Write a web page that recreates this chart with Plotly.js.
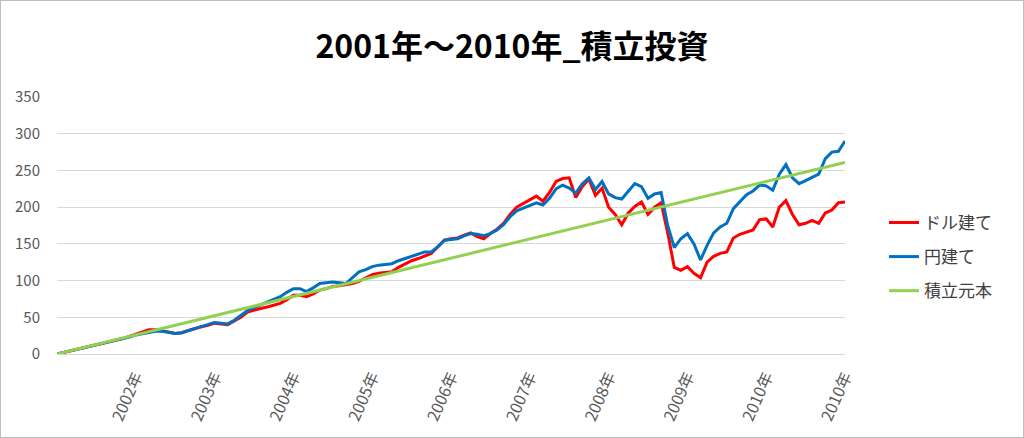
<!DOCTYPE html>
<html>
<head>
<meta charset="utf-8">
<script src="https://cdn.plot.ly/plotly-3.0.1.min.js"></script>
<style>
  html, body { margin: 0; padding: 0; background: #ffffff; }
  #chart { width: 1022px; height: 436px; border: 1px solid #bfbfbf; }
</style>
</head>
<body>
<div id="chart"></div>
<script>
// Month index from January 2001 (0) to December 2010 (120)
const months = [
  0,1,2,3,4,5,6,7,8,9,10,11,12,13,14,15,16,17,18,19,20,
  21,22,23,24,25,26,27,28,29,30,31,32,33,34,35,36,37,38,39,40,
  41,42,43,44,45,46,47,48,49,50,51,52,53,54,55,56,57,58,59,60,
  61,62,63,64,65,66,67,68,69,70,71,72,73,74,75,76,77,78,79,80,
  81,82,83,84,85,86,87,88,89,90,91,92,93,94,95,96,97,98,99,100,
  101,102,103,104,105,106,107,108,109,110,111,112,113,114,115,116,117,118,119,120
];

// ドル建て (red)
const dollarValues = [
  0,2,4,6,8,10,12,14,16,18,21,24,27,30,33,33,32,30,28,29,32,
  35,37,39,42,41,40,45,50,57,60,62,64,66,69,74,80,80,78,82,87,
  89,92,93,94,96,99,103,108,110,111,112,118,123,127,130,133,137,146,155,157,
  158,162,165,160,157,164,170,178,190,200,205,211,215,208,220,235,239,240,213,228,
  238,216,226,200,190,176,192,201,207,190,200,206,165,118,114,119,110,104,125,133,
  137,139,158,163,166,169,183,184,173,200,209,190,176,178,182,178,192,196,206,207
];

// 円建て (blue)
const yenValues = [
  0,2,4,6,8,10,12,14,16,18,21,23,26,28,30,31,31,30,28,29,32,
  35,37,40,43,42,41,46,52,59,63,67,70,74,78,84,89,89,85,90,96,
  97,98,97,96,104,112,115,119,121,122,123,127,130,133,136,139,139,146,155,156,
  157,161,164,163,161,164,169,176,187,195,199,203,206,203,212,225,230,226,219,232,
  240,224,235,218,213,211,222,232,228,212,218,220,175,145,157,164,150,128,148,165,
  173,178,198,208,217,222,230,229,223,245,258,240,232,236,240,245,266,275,276,290
];

// 積立元本 (green): straight line from start to end
const principalMonths = [0, 120];
const principalValues = [0, 261];

const tickMonths = [12,24,36,48,60,72,84,96,108,120];
const tickLabels = ['2002年','2003年','2004年','2005年','2006年','2007年','2008年','2009年','2010年','2010年'];

const seriesNames = ['ドル建て', '円建て', '積立元本'];

const traces = [
  { x: months, y: dollarValues, name: seriesNames[0], type: 'scatter', mode: 'lines',
    line: { color: '#FF0000', width: 3 }, legendgroup: 'a' },
  { x: months, y: yenValues, name: seriesNames[1], type: 'scatter', mode: 'lines',
    line: { color: '#0070C0', width: 3 }, legendgroup: 'b' },
  { x: principalMonths, y: principalValues, name: seriesNames[2], type: 'scatter', mode: 'lines',
    line: { color: '#92D050', width: 3 }, legendgroup: 'c' }
];

const layout = {
  width: 1022, height: 436,
  paper_bgcolor: '#ffffff', plot_bgcolor: '#ffffff',
  margin: { l: 56, r: 178, t: 96, b: 83 },
  font: { family: '"Noto Sans CJK JP", "Noto Sans", sans-serif', color: '#595959' },
  title: {
    text: '<b>2001年～2010年_積立投資</b>',
    font: { family: '"Noto Sans CJK JP", sans-serif', size: 32, color: '#000000' },
    x: 0.5, xanchor: 'center', y: 0.895, yanchor: 'middle', yref: 'container'
  },
  xaxis: {
    range: [0, 120], tickmode: 'array', tickvals: tickMonths, ticktext: tickLabels,
    tickangle: -66, showgrid: false, zeroline: false,
    showline: true, linecolor: '#d9d9d9', linewidth: 1,
    ticks: '', ticklabelstandoff: 6,
    tickfont: { size: 16, color: '#595959' }, fixedrange: true
  },
  yaxis: {
    range: [0, 350], dtick: 50, tick0: 0,
    showgrid: true, gridcolor: '#d9d9d9', gridwidth: 1,
    zeroline: false, showline: false, ticks: '',
    ticklabelstandoff: 16,
    tickfont: { size: 15, color: '#595959' }, fixedrange: true
  },
  showlegend: true,
  legend: {
    xref: 'container', yref: 'container',
    x: 0.864, y: 0.413, xanchor: 'left', yanchor: 'middle',
    font: { size: 17, color: '#404040' },
    tracegroupgap: 9, traceorder: 'grouped',
    bgcolor: 'rgba(0,0,0,0)'
  }
};

Plotly.newPlot('chart', traces, layout, { displayModeBar: false, staticPlot: true });
</script>
</body>
</html>
